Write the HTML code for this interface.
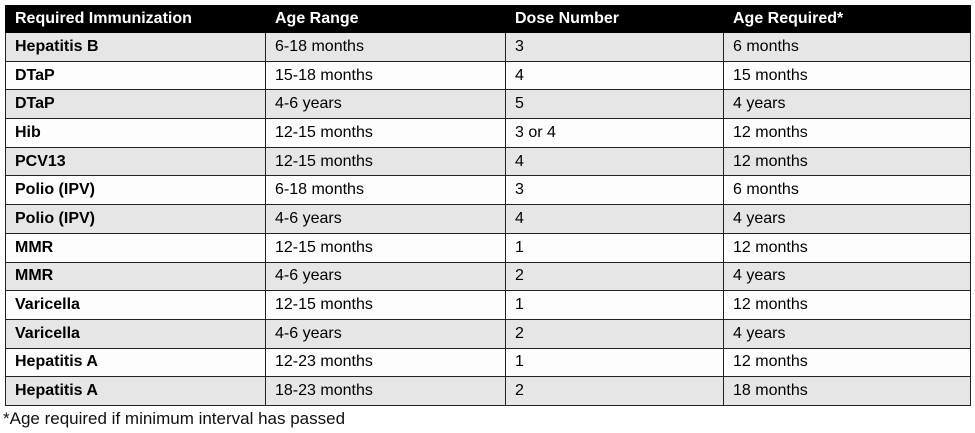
<!DOCTYPE html>
<html><head><style>
body{margin:0;width:975px;height:433px;background:#fff;font-family:"Liberation Sans",sans-serif;overflow:hidden;position:relative}
table{position:absolute;left:5px;top:5px;border-collapse:collapse;width:965px;table-layout:fixed}
td,th{height:27.7px;padding:0 0 0 9px;font-size:16px;text-align:left;border:1px solid #222;white-space:nowrap;overflow:hidden}
th{background:#000;color:#fff;font-weight:bold;height:26px;border-color:#000}
td:first-child{font-weight:bold}
tr:nth-child(even) td{background:#e6e6e6}
tr:nth-child(odd) td{background:#fdfdfd}
.f{position:absolute;left:3px;top:409px;font-size:17px;color:#111}
</style></head><body>
<table>
<colgroup><col style="width:260px"><col style="width:240px"><col style="width:218px"><col style="width:247px"></colgroup>
<tr><th>Required Immunization</th><th>Age Range</th><th>Dose Number</th><th>Age Required*</th></tr>
<tr><td>Hepatitis B</td><td>6-18 months</td><td>3</td><td>6 months</td></tr>
<tr><td>DTaP</td><td>15-18 months</td><td>4</td><td>15 months</td></tr>
<tr><td>DTaP</td><td>4-6 years</td><td>5</td><td>4 years</td></tr>
<tr><td>Hib</td><td>12-15 months</td><td>3 or 4</td><td>12 months</td></tr>
<tr><td>PCV13</td><td>12-15 months</td><td>4</td><td>12 months</td></tr>
<tr><td>Polio (IPV)</td><td>6-18 months</td><td>3</td><td>6 months</td></tr>
<tr><td>Polio (IPV)</td><td>4-6 years</td><td>4</td><td>4 years</td></tr>
<tr><td>MMR</td><td>12-15 months</td><td>1</td><td>12 months</td></tr>
<tr><td>MMR</td><td>4-6 years</td><td>2</td><td>4 years</td></tr>
<tr><td>Varicella</td><td>12-15 months</td><td>1</td><td>12 months</td></tr>
<tr><td>Varicella</td><td>4-6 years</td><td>2</td><td>4 years</td></tr>
<tr><td>Hepatitis A</td><td>12-23 months</td><td>1</td><td>12 months</td></tr>
<tr><td>Hepatitis A</td><td>18-23 months</td><td>2</td><td>18 months</td></tr>
</table>
<div class="f">*Age required if minimum interval has passed</div>
</body></html>
